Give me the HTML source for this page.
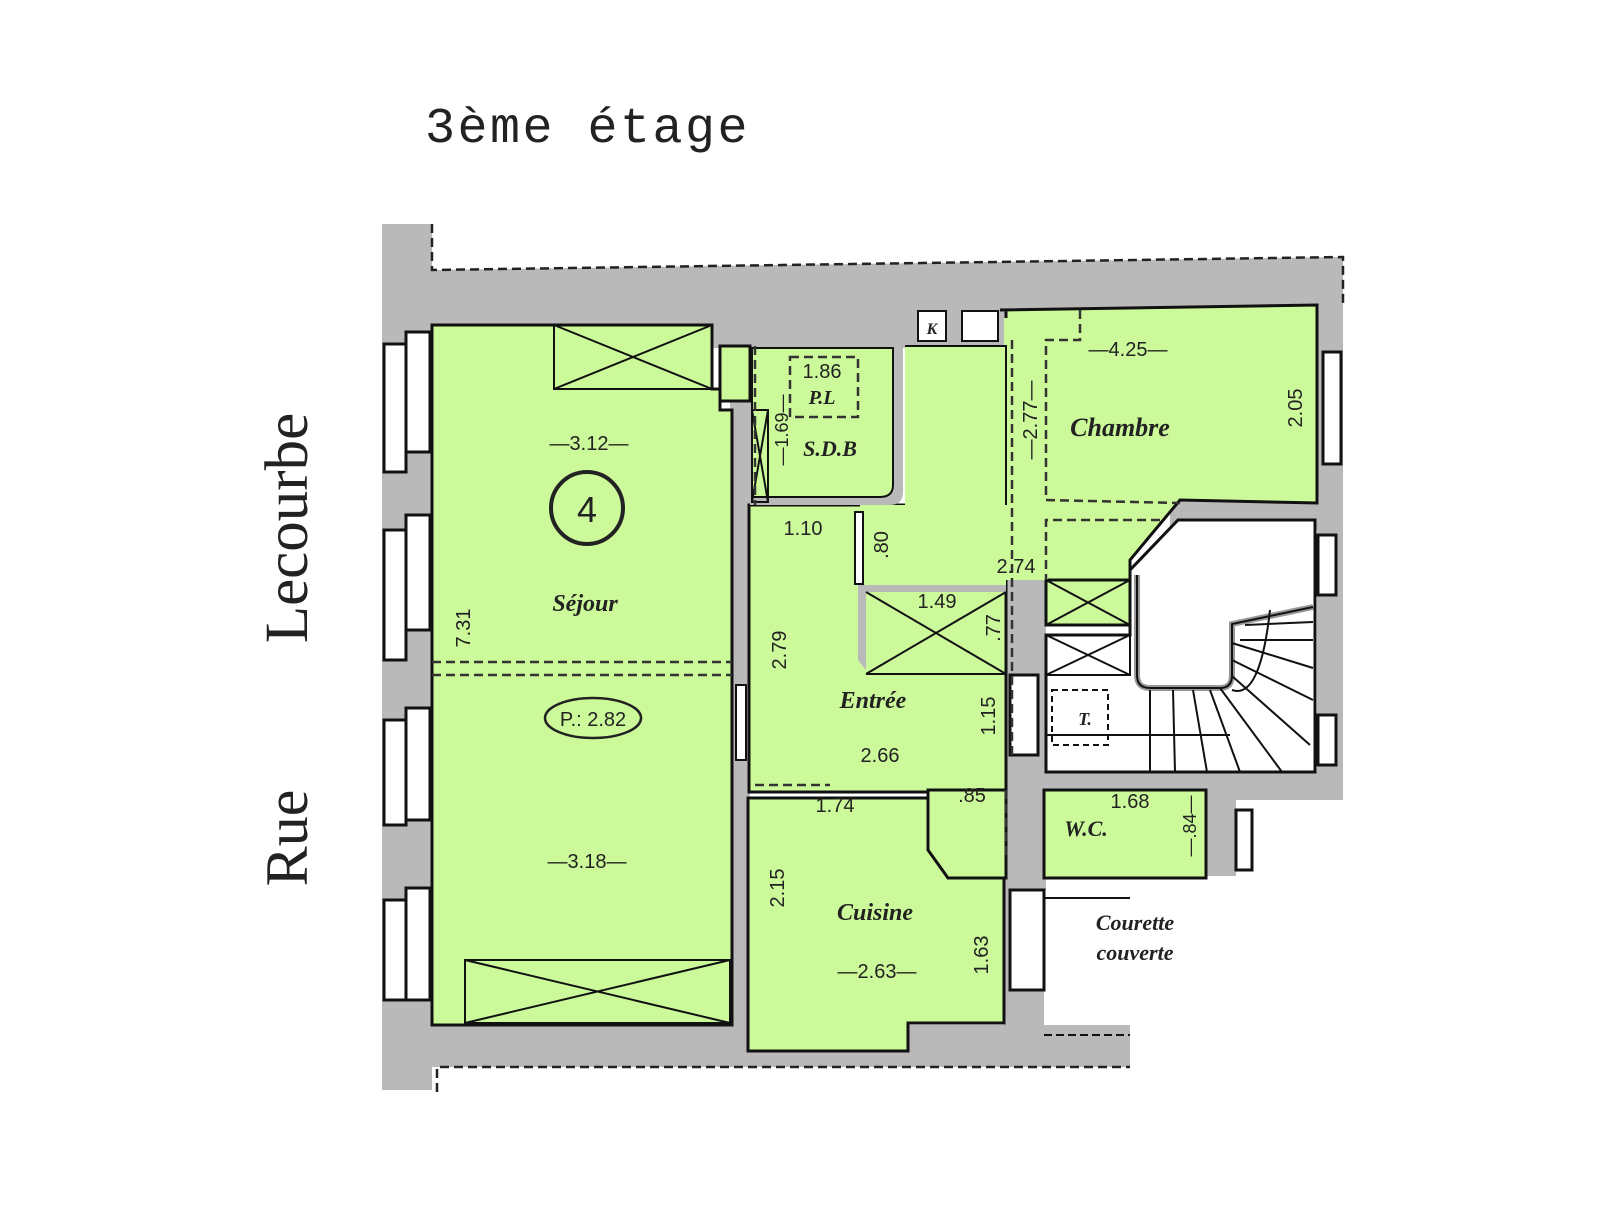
<!DOCTYPE html>
<html><head><meta charset="utf-8"><style>
html,body{margin:0;padding:0;background:#fff;}
svg{display:block}
text{font-family:"Liberation Sans",sans-serif;fill:#222}
.it{font-family:"Liberation Serif",serif;font-style:italic;font-weight:bold}
</style></head><body>
<svg width="1600" height="1225" viewBox="0 0 1600 1225" xmlns="http://www.w3.org/2000/svg">
<rect width="1600" height="1225" fill="#fff"/>
<text x="425" y="142" style="font-family:'Liberation Mono',monospace;font-size:50px;letter-spacing:2.5px" fill="#222">3ème étage</text>
<text transform="translate(307,528) rotate(-90)" text-anchor="middle" style="font-family:'Liberation Serif',serif;font-size:61px">Lecourbe</text>
<text transform="translate(307,838) rotate(-90)" text-anchor="middle" style="font-family:'Liberation Serif',serif;font-size:60px">Rue</text>

<!-- gray walls -->
<g fill="#b9b9b9">
<rect x="382" y="224" width="50" height="866"/>
<polygon points="432,270 1343,257 1343,310 432,328"/>
<rect x="432" y="290" width="574" height="58"/>
<rect x="432" y="1025" width="698" height="42"/>
<rect x="1317" y="300" width="26" height="500"/>
<rect x="1006" y="580" width="40" height="310"/>
<rect x="1006" y="768" width="337" height="32"/>
<rect x="730" y="325" width="20" height="700"/>
<rect x="1004" y="760" width="40" height="280"/>
<rect x="1170" y="500" width="150" height="30"/>
<rect x="1206" y="786" width="30" height="90"/>
</g>
<!-- dashed outer lines -->
<g stroke="#222" stroke-width="2.5" fill="none" stroke-dasharray="9,5">
<polyline points="432,224 432,270 1343,257 1343,305"/>
<polyline points="437,1092 437,1067 1130,1067"/>
</g>
<!-- windows left -->
<g fill="#fff" stroke="#111" stroke-width="3">
<rect x="384" y="344" width="22" height="128"/><rect x="406" y="332" width="24" height="120"/>
<rect x="384" y="530" width="22" height="130"/><rect x="406" y="515" width="24" height="115"/>
<rect x="384" y="720" width="22" height="105"/><rect x="406" y="708" width="24" height="112"/>
<rect x="384" y="900" width="22" height="100"/><rect x="406" y="888" width="24" height="112"/>
<rect x="1323" y="352" width="18" height="112"/>
<rect x="1318" y="535" width="18" height="60"/>
<rect x="1318" y="715" width="18" height="50"/>
<rect x="1236" y="810" width="16" height="60"/>
<rect x="1010" y="675" width="28" height="80"/>
<rect x="1010" y="890" width="34" height="100"/>
</g>
<!-- green rooms -->
<g fill="#ccf99a" stroke="#111" stroke-width="3">
<polygon points="432,325 712,325 712,389 720,389 720,410 732,410 732,1025 432,1025"/>
<polygon points="1000,310 1317,305 1317,503 1180,500 1130,560 1130,620 1046,620 1046,505 1006,505 1006,310"/>
<polygon points="749,505 1006,505 1006,792 749,792"/>
<polygon points="748,798 928,798 928,840 945,860 1004,860 1004,1023 908,1023 908,1051 748,1051 748,1023"/>
<polygon points="928,790 1006,790 1006,878 948,878 928,850"/>
<polygon points="1044,790 1206,790 1206,878 1044,878"/>
<rect x="1046" y="580" width="84" height="45"/>
</g>
<polygon points="905,346 1006,346 1006,590 860,590 860,505 905,505" fill="#ccf99a"/>
<rect x="1004" y="318" width="44" height="262" fill="#ccf99a"/>
<line x1="905" y1="346" x2="1006" y2="346" stroke="#111" stroke-width="2"/>
<line x1="1006" y1="345" x2="1006" y2="505" stroke="#111" stroke-width="2"/>
<!-- entrée inner closet wall -->
<polygon points="858,585 1006,585 1006,592 866,592 866,670 858,660" fill="#b9b9b9"/>
<!-- SDB -->
<path d="M750,346 L903,346 L903,492 Q903,505 890,505 L750,505 Z" fill="#b9b9b9"/>
<path d="M752,348 L893,348 L893,485 Q893,497 880,497 L752,497 Z" fill="#ccf99a" stroke="#111" stroke-width="2"/>
<rect x="720" y="346" width="30" height="55" fill="#ccf99a" stroke="#111" stroke-width="3"/>
<!-- stair area -->
<g stroke="#111" stroke-width="3" fill="#fff">
<polygon points="1178,520 1315,520 1315,772 1046,772 1046,635 1130,635 1130,570"/>
<path d="M1137,575 L1137,675 Q1137,688 1150,688 L1220,688 Q1232,688 1232,675 L1232,624 L1313,607" fill="#fff" stroke="#999" stroke-width="6"/>
<path d="M1137,575 L1137,675 Q1137,688 1150,688 L1220,688 Q1232,688 1232,675 L1232,624 L1313,607" fill="none" stroke-width="2"/>
</g>
<g stroke="#111" stroke-width="2" fill="none">
<line x1="1150" y1="690" x2="1150" y2="772"/><line x1="1173" y1="690" x2="1175" y2="772"/>
<line x1="1193" y1="690" x2="1207" y2="772"/><line x1="1210" y1="690" x2="1240" y2="772"/>
<line x1="1220" y1="688" x2="1282" y2="772"/><line x1="1232" y1="676" x2="1310" y2="745"/>
<line x1="1232" y1="660" x2="1313" y2="700"/><line x1="1232" y1="643" x2="1313" y2="668"/>
<line x1="1240" y1="640" x2="1313" y2="640"/><line x1="1245" y1="625" x2="1313" y2="622"/>
<line x1="1046" y1="735" x2="1230" y2="735"/>
<path d="M1232,690 Q1260,700 1270,610" />
<rect x="1052" y="690" width="56" height="55" stroke-dasharray="6,4"/>
</g>
<polyline points="1044,898 1130,898" stroke="#111" stroke-width="2"/>
<polyline points="1044,1035 1130,1035" stroke="#111" stroke-width="2" stroke-dasharray="8,4"/>
<!-- X closets -->
<g stroke="#111" stroke-width="2" fill="none">
<rect x="554" y="325" width="158" height="64"/><line x1="554" y1="325" x2="712" y2="389"/><line x1="554" y1="389" x2="712" y2="325"/>
<rect x="465" y="960" width="265" height="63"/><line x1="465" y1="960" x2="730" y2="1023"/><line x1="465" y1="1023" x2="730" y2="960"/>
<line x1="866" y1="592" x2="1006" y2="674"/><line x1="866" y1="674" x2="1006" y2="592"/>
<line x1="866" y1="674" x2="1006" y2="674"/>
<rect x="1046" y="580" width="84" height="45"/><line x1="1046" y1="580" x2="1130" y2="625"/><line x1="1046" y1="625" x2="1130" y2="580"/>
<rect x="1046" y="635" width="84" height="40"/><line x1="1046" y1="635" x2="1130" y2="675"/><line x1="1046" y1="675" x2="1130" y2="635"/>
<rect x="752" y="410" width="16" height="92"/><line x1="752" y1="410" x2="768" y2="502"/><line x1="752" y1="502" x2="768" y2="410"/>
</g>
<!-- dashed internal -->
<g stroke="#333" stroke-width="2.5" fill="none" stroke-dasharray="9,5">
<line x1="432" y1="662" x2="732" y2="662"/><line x1="432" y1="675" x2="732" y2="675"/>
<line x1="755" y1="346" x2="755" y2="505"/>
<rect x="790" y="357" width="68" height="60"/>
<line x1="1012" y1="340" x2="1012" y2="760"/>
<polyline points="1080,310 1080,340 1046,340 1046,500 1180,503"/>
<polyline points="1160,520 1046,520 1046,580"/>
<line x1="1006" y1="790" x2="1006" y2="860"/>
<line x1="740" y1="690" x2="740" y2="760"/>
<line x1="755" y1="785" x2="830" y2="785"/>
</g>
<rect x="736" y="685" width="10" height="75" fill="#fff" stroke="#111" stroke-width="2"/>
<rect x="855" y="512" width="8" height="72" fill="#fff" stroke="#111" stroke-width="2"/>
<rect x="918" y="311" width="28" height="30" fill="#fff" stroke="#111" stroke-width="2"/>
<rect x="962" y="311" width="36" height="30" fill="#fff" stroke="#111" stroke-width="2"/>
<text x="932" y="334" font-size="16" text-anchor="middle" class="it">K</text>
<!-- labels -->
<circle cx="587" cy="508" r="36" fill="none" stroke="#222" stroke-width="4"/>
<text x="587" y="522" font-size="36" text-anchor="middle">4</text>
<text x="589" y="450" font-size="20" text-anchor="middle">—3.12—</text>
<text x="585" y="611" font-size="24" text-anchor="middle" class="it">Séjour</text>
<ellipse cx="593" cy="718" rx="48" ry="20" fill="none" stroke="#222" stroke-width="2.5"/>
<text x="593" y="726" font-size="20" text-anchor="middle">P.: 2.82</text>
<text x="587" y="868" font-size="20" text-anchor="middle">—3.18—</text>
<text transform="translate(470,628) rotate(-90)" font-size="20" text-anchor="middle">7.31</text>
<text x="822" y="378" font-size="20" text-anchor="middle">1.86</text>
<text x="822" y="404" font-size="20" text-anchor="middle" class="it">P.L</text>
<text x="830" y="456" font-size="22" text-anchor="middle" class="it">S.D.B</text>
<text transform="translate(788,430) rotate(-90)" font-size="18" text-anchor="middle">—1.69—</text>
<text x="803" y="535" font-size="20" text-anchor="middle">1.10</text>
<text transform="translate(888,545) rotate(-90)" font-size="20" text-anchor="middle">.80</text>
<text x="1016" y="573" font-size="20" text-anchor="middle">2.74</text>
<text x="937" y="608" font-size="20" text-anchor="middle">1.49</text>
<text transform="translate(1000,628) rotate(-90)" font-size="20" text-anchor="middle">.77</text>
<text transform="translate(786,650) rotate(-90)" font-size="20" text-anchor="middle">2.79</text>
<text x="873" y="708" font-size="24" text-anchor="middle" class="it">Entrée</text>
<text transform="translate(995,716) rotate(-90)" font-size="20" text-anchor="middle">1.15</text>
<text x="880" y="762" font-size="20" text-anchor="middle">2.66</text>
<text transform="translate(1037,420) rotate(-90)" font-size="20" text-anchor="middle">—2.77—</text>
<text x="1128" y="356" font-size="20" text-anchor="middle">—4.25—</text>
<text x="1120" y="436" font-size="26" text-anchor="middle" class="it">Chambre</text>
<text transform="translate(1302,408) rotate(-90)" font-size="20" text-anchor="middle">2.05</text>
<text x="835" y="812" font-size="20" text-anchor="middle">1.74</text>
<text x="972" y="802" font-size="20" text-anchor="middle">.85</text>
<text x="1130" y="808" font-size="20" text-anchor="middle">1.68</text>
<text x="1086" y="836" font-size="22" text-anchor="middle" class="it">W.C.</text>
<text transform="translate(1196,826) rotate(-90)" font-size="18" text-anchor="middle">—.84—</text>
<text transform="translate(784,888) rotate(-90)" font-size="20" text-anchor="middle">2.15</text>
<text x="875" y="920" font-size="24" text-anchor="middle" class="it">Cuisine</text>
<text x="877" y="978" font-size="20" text-anchor="middle">—2.63—</text>
<text transform="translate(988,955) rotate(-90)" font-size="20" text-anchor="middle">1.63</text>
<text x="1135" y="930" font-size="22" text-anchor="middle" class="it">Courette</text>
<text x="1135" y="960" font-size="22" text-anchor="middle" class="it">couverte</text>
<text x="1085" y="725" font-size="18" text-anchor="middle" class="it">T.</text>
</svg>
</body></html>
